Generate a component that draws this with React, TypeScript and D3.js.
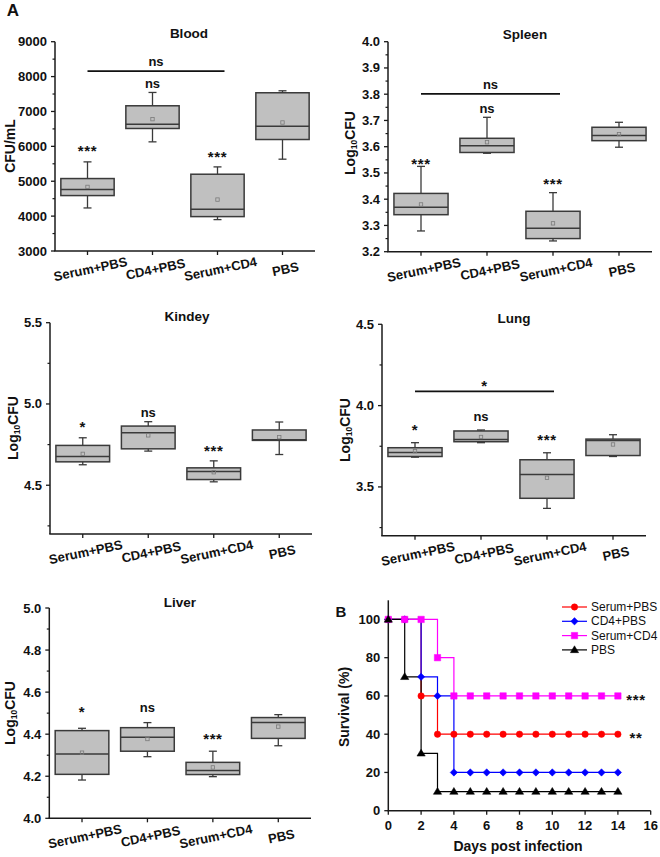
import React from "react";
import * as d3 from "d3";

const categories = ["Serum+PBS", "CD4+PBS", "Serum+CD4", "PBS"];

// each row: [lower whisker, Q1, median, Q3, upper whisker, mean]
const bloodStats = [
  [4234, 4589, 4761, 5077, 5555, 4837],
  [6129, 6512, 6636, 7163, 7545, 6780],
  [3900, 3986, 4196, 5201, 5411, 4474],
  [5632, 6196, 6579, 7536, 7593, 6684],
];
const bloodMarks = ["***", "ns", "***", ""];
const bloodMarkY = [5977, 7786, 5804, 0];
const bloodBracket = { label: "ns", y: 8159, labelY: 8397 };

const spleenStats = [
  [3.279, 3.341, 3.369, 3.422, 3.525, 3.38],
  [3.575, 3.578, 3.604, 3.632, 3.712, 3.617],
  [3.241, 3.25, 3.289, 3.354, 3.425, 3.308],
  [3.598, 3.623, 3.643, 3.674, 3.693, 3.648],
];
const spleenMarks = ["***", "ns", "***", ""];
const spleenMarkY = [3.552, 3.742, 3.473, 0];
const spleenBracket = { label: "ns", y: 3.801, labelY: 3.835 };

const kidneyStats = [
  [4.626, 4.644, 4.677, 4.745, 4.792, 4.693],
  [4.71, 4.724, 4.823, 4.864, 4.891, 4.807],
  [4.521, 4.535, 4.584, 4.607, 4.65, 4.58],
  [4.689, 4.776, 4.78, 4.84, 4.889, 4.796],
];
const kidneyMarks = ["*", "ns", "***", ""];
const kidneyMarkY = [4.883, 4.944, 4.739, 0];

const lungStats = [
  [3.683, 3.687, 3.712, 3.741, 3.772, 3.72],
  [3.772, 3.778, 3.792, 3.844, 3.85, 3.807],
  [3.368, 3.43, 3.576, 3.667, 3.71, 3.556],
  [3.687, 3.693, 3.786, 3.794, 3.821, 3.761],
];
const lungMarks = ["*", "ns", "***", ""];
const lungMarkY = [3.879, 3.926, 3.813, 0];
const lungBracket = { label: "*", y: 4.088, labelY: 4.146 };

const liverStats = [
  [4.182, 4.209, 4.306, 4.417, 4.428, 4.312],
  [4.293, 4.319, 4.385, 4.431, 4.455, 4.377],
  [4.198, 4.208, 4.227, 4.266, 4.319, 4.242],
  [4.345, 4.38, 4.456, 4.479, 4.493, 4.436],
];
const liverMarks = ["*", "ns", "***", ""];
const liverMarkY = [4.528, 4.52, 4.399, 0];

// Survival (Panel B)
const days = [0, 1, 2, 3, 4, 5, 6, 7, 8, 9, 10, 11, 12, 13, 14];
const survSerumPBS = [100, 100, 60, 40, 40, 40, 40, 40, 40, 40, 40, 40, 40, 40, 40];
const survCD4PBS = [100, 100, 70, 60, 20, 20, 20, 20, 20, 20, 20, 20, 20, 20, 20];
const survSerumCD4 = [100, 100, 100, 80, 60, 60, 60, 60, 60, 60, 60, 60, 60, 60, 60];
const survPBS = [100, 70, 30, 10, 10, 10, 10, 10, 10, 10, 10, 10, 10, 10, 10];
const survNames = ["Serum+PBS", "CD4+PBS", "Serum+CD4", "PBS"];
const survSig = [
  { label: "***", value: 60 },
  { label: "**", value: 40 },
];

const FONT = "'Liberation Sans', Arial, Helvetica, sans-serif";
const AXIS = "#1a1a1a";
const BOXSTROKE = "#3a3a3a";
const BOXFILL = "#c0c0c0";

type Panel = {
  title: string;
  yLabel: string;
  log: boolean;
  stats: number[][];
  marks: string[];
  markY: number[];
  bracket?: { label: string; y: number; labelY: number };
  domain: [number, number];
  major: number[];
  minor: number[];
  fmt: (d: number) => string;
  left: number;
  right: number;
  top: number;
  bottom: number;
  titleX: number;
  titleY: number;
  yLabelX: number;
  yLabelY: number;
};

const f1 = d3.format(".1f");
const fInt = d3.format("d");

const panels: Panel[] = [
  {
    title: "Blood", yLabel: "CFU/mL", log: false,
    stats: bloodStats, marks: bloodMarks, markY: bloodMarkY, bracket: bloodBracket,
    domain: [3000, 9000], major: d3.range(3000, 9001, 1000), minor: d3.range(3500, 9000, 1000), fmt: fInt,
    left: 55, right: 315, top: 41.7, bottom: 251, titleX: 189, titleY: 33, yLabelX: 10, yLabelY: 146,
  },
  {
    title: "Spleen", yLabel: "CFU", log: true,
    stats: spleenStats, marks: spleenMarks, markY: spleenMarkY, bracket: spleenBracket,
    domain: [3.2, 4.0], major: d3.range(0, 9).map((i) => 3.2 + i * 0.1), minor: d3.range(0, 8).map((i) => 3.25 + i * 0.1), fmt: f1,
    left: 388, right: 652, top: 41.7, bottom: 251.7, titleX: 525, titleY: 34, yLabelX: 350, yLabelY: 143,
  },
  {
    title: "Kindey", yLabel: "CFU", log: true,
    stats: kidneyStats, marks: kidneyMarks, markY: kidneyMarkY,
    domain: [4.2, 5.5], major: [4.5, 5.0, 5.5], minor: [4.25, 4.75, 5.25], fmt: f1,
    left: 50, right: 312, top: 322.7, bottom: 534, titleX: 187, titleY: 316, yLabelX: 13, yLabelY: 428,
  },
  {
    title: "Lung", yLabel: "CFU", log: true,
    stats: lungStats, marks: lungMarks, markY: lungMarkY, bracket: lungBracket,
    domain: [3.2, 4.5], major: [3.5, 4.0, 4.5], minor: [3.25, 3.75, 4.25], fmt: f1,
    left: 382, right: 646, top: 324.3, bottom: 535.7, titleX: 514, titleY: 318, yLabelX: 345, yLabelY: 430,
  },
  {
    title: "Liver", yLabel: "CFU", log: true,
    stats: liverStats, marks: liverMarks, markY: liverMarkY,
    domain: [4.0, 5.0], major: d3.range(0, 6).map((i) => 4.0 + i * 0.2), minor: d3.range(0, 5).map((i) => 4.1 + i * 0.2), fmt: f1,
    left: 49.3, right: 311, top: 608, bottom: 818.3, titleX: 180, titleY: 602, yLabelX: 10, yLabelY: 713,
  },
];

const STAR_FS = 15;

function markBaseline(label: string, cy: number, fs: number) {
  return label.includes("*") ? cy + 0.62 * STAR_FS : cy + 0.27 * fs;
}

function Mark({ label, x, cy, fs }: { label: string; x: number; cy: number; fs: number }) {
  const star = label.includes("*");
  return (
    <text
      x={x}
      y={markBaseline(label, cy, fs)}
      textAnchor="middle"
      fontWeight="bold"
      fontSize={star ? STAR_FS : fs}
      letterSpacing={star ? 0.6 : 0}
    >
      {label}
    </text>
  );
}

function BoxPanel({ p }: { p: Panel }) {
  const x = d3.scalePoint<string>().domain(categories).range([p.left, p.right]).padding(0.5);
  const y = d3.scaleLinear().domain(p.domain).range([p.bottom, p.top]);
  const bw = x.step() * 0.82;
  const cap = 8;
  const fs = 13;
  return (
    <g>
      <text x={p.titleX} y={p.titleY} textAnchor="middle" dominantBaseline="central" fontWeight="bold" fontSize={13.5}>
        {p.title}
      </text>
      <text
        transform={`translate(${p.yLabelX},${p.yLabelY}) rotate(-90)`}
        textAnchor="middle"
        dominantBaseline="central"
        fontWeight="bold"
        fontSize={14}
      >
        {p.log ? (
          <>
            <tspan>Log</tspan>
            <tspan fontSize={8.5} dy={4}>10</tspan>
            <tspan dy={-4}>{p.yLabel}</tspan>
          </>
        ) : (
          p.yLabel
        )}
      </text>
      <line x1={p.left} x2={p.left} y1={y(p.domain[1])} y2={y(p.domain[0])} stroke={AXIS} strokeWidth={1.5} />
      <line x1={p.left - 0.75} x2={p.right} y1={p.bottom} y2={p.bottom} stroke={AXIS} strokeWidth={1.5} />
      {p.major.map((v, i) => (
        <g key={"M" + i}>
          <line x1={p.left - 4} x2={p.left} y1={y(v)} y2={y(v)} stroke={AXIS} strokeWidth={1.3} />
          <text x={p.left - 8} y={y(v)} textAnchor="end" dominantBaseline="central" fontWeight="bold" fontSize={fs}>
            {p.fmt(v)}
          </text>
        </g>
      ))}
      {p.minor.map((v, i) => (
        <line key={"m" + i} x1={p.left - 2.5} x2={p.left} y1={y(v)} y2={y(v)} stroke={AXIS} strokeWidth={1.2} />
      ))}
      {categories.map((c) => (
        <g key={"xt" + c}>
          <line x1={x(c)!} x2={x(c)!} y1={p.bottom} y2={p.bottom + 4} stroke={AXIS} strokeWidth={1.3} />
          <text
            transform={`translate(${x(c)! + 3},${p.bottom + 18}) rotate(-12)`}
            textAnchor="middle"
            dominantBaseline="central"
            fontWeight="bold"
            fontSize={fs}
          >
            {c}
          </text>
        </g>
      ))}
      {p.stats.map((s, i) => {
        const cx = x(categories[i])!;
        const [lo, q1, med, q3, hi, mean] = s;
        return (
          <g key={"b" + i}>
            <line x1={cx} x2={cx} y1={y(hi)} y2={y(q3)} stroke={BOXSTROKE} strokeWidth={1.3} />
            <line x1={cx} x2={cx} y1={y(q1)} y2={y(lo)} stroke={BOXSTROKE} strokeWidth={1.3} />
            <line x1={cx - cap / 2} x2={cx + cap / 2} y1={y(hi)} y2={y(hi)} stroke={BOXSTROKE} strokeWidth={1.3} />
            <line x1={cx - cap / 2} x2={cx + cap / 2} y1={y(lo)} y2={y(lo)} stroke={BOXSTROKE} strokeWidth={1.3} />
            <rect
              x={cx - bw / 2}
              y={y(q3)}
              width={bw}
              height={y(q1) - y(q3)}
              fill={BOXFILL}
              stroke={BOXSTROKE}
              strokeWidth={1.5}
            />
            <line x1={cx - bw / 2} x2={cx + bw / 2} y1={y(med)} y2={y(med)} stroke={BOXSTROKE} strokeWidth={1.5} />
            <rect x={cx - 1.7} y={y(mean) - 1.7} width={3.4} height={3.4} fill="none" stroke="#7a7a7a" strokeWidth={0.8} />
          </g>
        );
      })}
      {p.marks.map((m, i) =>
        m ? <Mark key={"s" + i} label={m} x={x(categories[i])!} cy={y(p.markY[i])} fs={fs} /> : null
      )}
      {p.bracket ? (
        <g>
          <line
            x1={x(categories[0])!}
            x2={x(categories[2])! + 7}
            y1={y(p.bracket.y)}
            y2={y(p.bracket.y)}
            stroke="#111"
            strokeWidth={1.8}
          />
          <Mark
            label={p.bracket.label}
            x={(x(categories[0])! + x(categories[2])! + 7) / 2}
            cy={y(p.bracket.labelY)}
            fs={fs}
          />
        </g>
      ) : null}
    </g>
  );
}

function markerPath(kind: number, r: number) {
  if (kind === 0) return d3.symbol().type(d3.symbolCircle).size(Math.PI * r * r)()!;
  if (kind === 1) return `M0,${-r * 1.15}L${r * 1.15},0L0,${r * 1.15}L${-r * 1.15},0Z`;
  if (kind === 2) return `M${-r},${-r}H${r}V${r}H${-r}Z`;
  const h = r * 1.9;
  return `M0,${-h * 0.6}L${r * 1.15},${h * 0.4}L${-r * 1.15},${h * 0.4}Z`;
}

function SurvivalPanel() {
  const left = 388.3;
  const right = 650.7;
  const bottom = 810.7;
  const top = 600.3;
  const x = d3.scaleLinear().domain([0, 16]).range([left, right]);
  const y = d3.scaleLinear().domain([0, 110]).range([bottom, top]);
  const series = [survSerumPBS, survCD4PBS, survSerumCD4, survPBS];
  const colors = ["#ff0000", "#0000ff", "#ff00ff", "#000000"];
  const line = d3
    .line<number>()
    .x((_, i) => x(days[i]))
    .y((v) => y(v))
    .curve(d3.curveStepAfter);
  const fs = 13;
  const legendY0 = 607;
  const legendStep = 14.3;
  return (
    <g>
      <text x={341} y={617} textAnchor="middle" fontWeight="bold" fontSize={15}>
        B
      </text>
      <line x1={left} x2={left} y1={top} y2={bottom} stroke={AXIS} strokeWidth={1.5} />
      <line x1={left - 0.75} x2={right} y1={bottom} y2={bottom} stroke={AXIS} strokeWidth={1.5} />
      {d3.range(0, 101, 20).map((v) => (
        <g key={"y" + v}>
          <line x1={left - 4} x2={left} y1={y(v)} y2={y(v)} stroke={AXIS} strokeWidth={1.3} />
          <text x={left - 8} y={y(v)} textAnchor="end" dominantBaseline="central" fontWeight="bold" fontSize={fs}>
            {v}
          </text>
        </g>
      ))}
      {d3.range(0, 17, 2).map((v) => (
        <g key={"x" + v}>
          <line x1={x(v)} x2={x(v)} y1={bottom} y2={bottom + 4} stroke={AXIS} strokeWidth={1.3} />
          <text x={x(v)} y={bottom + 19.5} textAnchor="middle" fontWeight="bold" fontSize={fs}>
            {v}
          </text>
        </g>
      ))}
      <text
        transform={`translate(344,707) rotate(-90)`}
        textAnchor="middle"
        dominantBaseline="central"
        fontWeight="bold"
        fontSize={14}
      >
        Survival (%)
      </text>
      <text x={518} y={851} textAnchor="middle" fontWeight="bold" fontSize={14}>
        Days post infection
      </text>
      {series.map((s, k) => (
        <path key={"l" + k} d={line(s)!} fill="none" stroke={colors[k]} strokeWidth={1.2} />
      ))}
      {series.map((s, k) =>
        s.map((v, i) => (
          <path
            key={"p" + k + "-" + i}
            transform={`translate(${x(days[i])},${y(v)})`}
            d={markerPath(k, k === 3 ? 3.6 : 3.2)}
            fill={colors[k]}
            stroke={colors[k]}
            strokeWidth={0.5}
          />
        ))
      )}
      {survSig.map((s) => (
        <Mark key={s.label} label={s.label} x={636} cy={y(s.value)} fs={fs} />
      ))}
      {survNames.map((n, k) => {
        const ly = legendY0 + k * legendStep;
        return (
          <g key={"lg" + n}>
            <line x1={562} x2={587} y1={ly} y2={ly} stroke={colors[k]} strokeWidth={1.2} />
            <path transform={`translate(574.5,${ly})`} d={markerPath(k, k === 3 ? 3.6 : 3.2)} fill={colors[k]} stroke={colors[k]} strokeWidth={0.5} />
            <text x={591} y={ly} dominantBaseline="central" fontSize={12}>
              {n}
            </text>
          </g>
        );
      })}
    </g>
  );
}

export default function App() {
  return (
    <svg
      width={660}
      height={857}
      viewBox="0 0 660 857"
      style={{ position: "absolute", left: 0, top: 0, background: "#fff", fontFamily: FONT }}
      fontFamily={FONT}
      fill="#111"
    >
      <rect x={0} y={0} width={660} height={857} fill="#fff" />
      <text x={13} y={16} textAnchor="middle" fontWeight="bold" fontSize={17}>
        A
      </text>
      {panels.map((p) => (
        <BoxPanel key={p.title} p={p} />
      ))}
      <SurvivalPanel />
    </svg>
  );
}
